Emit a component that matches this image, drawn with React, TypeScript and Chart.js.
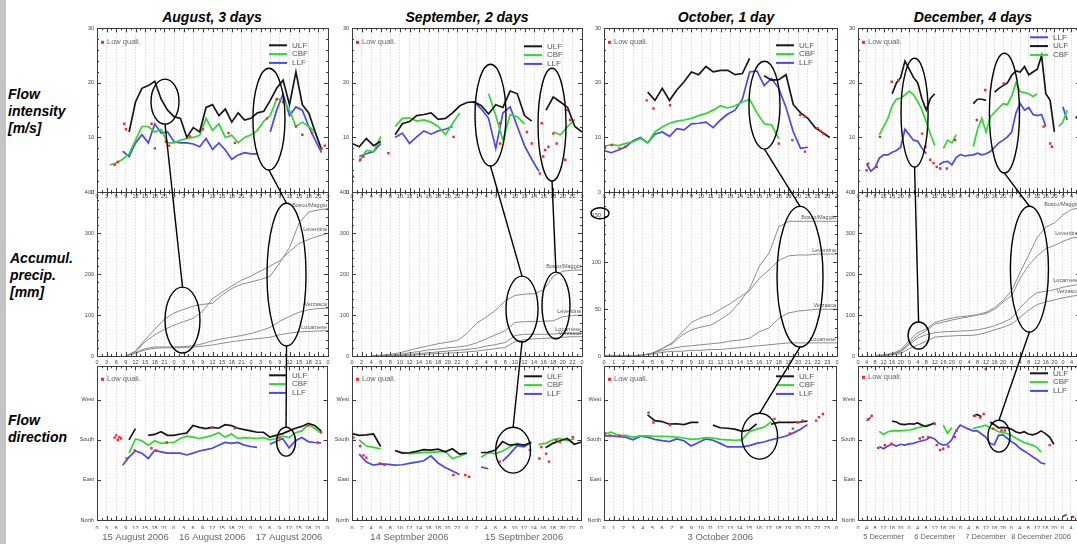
import React, { useEffect, useRef } from "react";
import { Chart, registerables } from "chart.js";
Chart.register(...registerables);

// ---------- time grids (hours since 00:00 of the first day) ----------
const hours = (n: number, step: number) => Array.from({ length: n }, (_, i) => i * step);
const AUG_T = hours(37, 2);
const AUG_PT = hours(25, 3);
const SEP_T = hours(33, 1.5);
const SEP_PT = hours(25, 2);
const OCT_T = hours(33, 0.75);
const OCT_PT = hours(25, 1);
const DEC_T = hours(53, 2);
const DEC_PT = hours(27, 4);

// ---------- August (15-17 Aug 2006) ----------
const AUG_ULF = [null,null,null,null,null,11.0,16.5,19.0,19.5,20.3,17.0,15.0,13.8,13.5,10.0,11.8,11.0,15.5,16.0,14.0,15.2,12.8,14.5,13.2,13.5,14.5,14.8,16.8,19.0,20.5,16.0,22.0,16.0,14.5,11.0,7.8,null];
const AUG_CBF = [null,null,5.0,5.3,6.0,7.0,9.5,12.0,12.0,11.0,11.5,9.0,9.0,9.5,9.8,10.0,10.4,13.5,11.3,12.5,10.0,10.4,9.0,10.0,10.5,11.3,13.0,14.0,17.0,17.0,15.0,12.0,12.8,12.0,11.0,7.5,null];
const AUG_LLF = [null,null,null,null,7.5,6.5,9.0,10.5,9.0,12.5,10.8,11.0,9.2,9.0,9.0,8.8,8.3,9.8,7.8,9.0,7.7,6.0,6.8,7.2,7.0,7.0,null,11.0,15.0,18.0,14.0,15.6,15.0,12.0,9.5,7.2,null];
const AUG_LOW_SPD = [[5.5,5.0],[6.5,5.5],[8.5,12.5],[9,11.5],[17,12.5],[18,8.0],[21.5,9.2],[22.5,8.5],[29,10.2],[33,11.5],[41,10.8],[43,9.0],[53,13.5],[56,17.0],[58,16.5],[62,12.0],[64,10.5],[67,10.8],[70,8.0],[71,8.5]];
const AUG_BOSCO = [null,null,null,0,12,40,65,90,105,114,122,126,129,149,165,175,181,187,195,228,265,325,352,357,360];
const AUG_LEVENTINA = [null,null,null,0,10,35,52,65,75,84,92,110,140,156,171,185,195,208,220,233,255,275,285,293,300];
const AUG_VERZASCA = [null,null,null,0,8,18,22,22,22,23,25,30,37,42,46,50,55,62,70,85,97,107,113,116,117];
const AUG_LOCARNESE = [null,null,null,0,7,15,19,20,20,21,22,24,27,31,35,38,41,43,46,52,56,59,60,61,62];
const AUG_DIR_ULF = [null,null,null,null,null,180,205,null,190,192,198,190,190,193,195,212,208,205,208,206,214,212,206,203,200,197,197,186,190,194,200,206,210,217,212,200,null];
const AUG_DIR_CBF = [null,null,null,null,null,150,182,178,168,178,172,174,174,183,188,186,183,186,190,196,186,193,183,185,184,183,185,180,183,188,185,196,200,215,205,195,null];
const AUG_DIR_LLF = [null,null,null,null,123,141,155,150,138,156,153,150,150,150,146,150,155,158,161,168,174,172,174,168,165,163,null,170,176,183,162,178,185,176,174,173,null];
const AUG_LOW_DIR = [[5.5,185],[6,190],[6.5,180],[7,186],[7.5,183],[9.3,138],[11.8,156],[17,161],[18.5,156],[21.8,174],[36,208],[43,206],[57,185],[66,212],[69,174],[70,197]];

// ---------- September (14-15 Sep 2006) ----------
const SEP_ULF = [8.9,8.3,9.8,8.5,9.3,null,10.5,12.5,12.9,14.0,14.2,14.5,13.3,13.5,14.5,15.8,16.4,16.5,15.8,14.3,16.0,15.5,18.5,18.0,14.0,13.0,null,15.0,17.4,16.5,15.5,12.0,11.0];
const SEP_CBF = [null,5.5,7.6,7.4,10.2,null,12.0,13.5,13.6,13.0,13.2,12.8,12.0,10.5,12.6,14.5,null,null,null,18.0,14.0,9.5,14.2,13.8,12.5,null,null,null,11.0,10.5,12.0,13.3,null];
const SEP_LLF = [null,6.5,7.0,7.4,8.9,null,10.0,10.8,8.9,10.1,11.2,10.6,11.2,11.5,12.0,null,null,16.5,15.2,13.5,8.0,14.5,15.6,12.0,8.5,6.0,3.8,null,null,null,null,null,null];
const SEP_LOW_SPD = [[0.2,2.8],[1.7,5.9],[2.4,6.5],[7.6,7.1],[21.2,10.1],[30.9,12.6],[30.9,8.9],[36.5,11.0],[37.5,8.9],[39.2,3.4],[39.9,6.5],[40.3,7.7],[41,8.3],[42,10.7],[42.7,8.9],[39.6,12.6],[44.8,15.0],[45.5,13.2],[44.5,5.9]];
const SEP_BOSCO = [null,null,0,2,4,8,14,20,25,30,34,38,55,80,95,112,135,148,151,152,162,195,207,210,210];
const SEP_LEVENTINA = [null,null,0,1,2,4,8,11,15,17,20,22,25,32,42,52,62,82,84,84,85,86,96,99,100];
const SEP_LOCARNESE = [null,null,0,0,1,2,4,6,8,10,12,14,16,19,24,28,33,50,53,53,53,54,55,55,55];
const SEP_VERZASCA = [null,null,0,0,1,1,2,3,5,6,7,8,10,12,15,18,21,35,40,42,43,44,46,47,47];
const SEP_DIR_ULF = [194,190,191,193,165,null,156,150,151,154,158,157,159,153,160,148,150,null,151,152,157,176,168,170,168,174,null,162,172,178,183,170,175];
const SEP_DIR_CBF = [null,180,166,163,160,null,156,152,149,150,152,152,153,154,138,143,150,null,141,151,149,155,164,172,168,null,170,172,180,183,178,182,null];
const SEP_DIR_LLF = [null,148,130,123,126,125,123,124,127,130,133,144,128,118,110,102,null,null,119,115,null,132,148,167,164,175,null,null,null,null,null,null,null];
const SEP_LOW_DIR = [[0,197],[0.3,185],[1.7,166],[2.4,145],[3,140],[5.8,127],[6.8,124],[21.2,101],[23.7,101],[24.5,97],[30.9,131],[37.2,157],[39.2,138],[39.6,164],[40.6,149],[41.2,131],[42.7,179],[43.5,175],[46.2,186]];

// ---------- October (3 Oct 2006) ----------
const OCT_ULF = [null,null,null,null,null,null,18.3,16.8,19.0,16.8,18.7,20.2,22.0,21.5,23.0,22.0,22.3,22.3,21.5,21.7,24.5,null,21.3,20.5,20.6,21.5,16.0,14.5,13.5,11.8,10.9,10.0,null];
const OCT_CBF = [8.3,8.7,8.5,8.9,9.2,9.8,9.0,11.0,11.9,12.6,13.0,13.2,13.5,14.0,14.4,15.0,15.8,15.4,15.8,16.5,17.0,14.5,12.5,12.3,9.8,null,null,null,null,null,null,null,null];
const OCT_LLF = [7.6,7.2,7.7,8.3,9.4,10.0,9.0,10.6,11.0,10.2,11.6,11.4,12.5,12.6,12.8,11.8,13.2,14.3,15.0,17.0,22.0,22.2,19.5,20.8,19.0,15.5,11.0,8.0,8.2,null,null,null,null];
const OCT_LOW_SPD = [[0.1,8.3],[0.8,8.6],[1.6,8.0],[2.2,8.3],[4.4,16.8],[5.1,15.3],[6.8,15.9],[18,8.9],[19.4,9.5],[20.2,14.1],[20.7,13.8],[20.7,7.4],[22,11.7],[22.3,11.2],[22.6,10.7]];
const OCT_BOSCO = [0,0,0,0,1,3,8,13,22,28,31,33,39,46,58,72,96,110,138,144,144,144,144,144,144];
const OCT_LEVENTINA = [0,0,0,0,1,3,8,14,25,36,41,44,50,56,63,70,83,92,102,107,108,108,109,109,109];
const OCT_VERZASCA = [0,0,0,0,1,3,6,8,10,11,12,13,14,16,17,19,26,30,40,46,48,49,50,50,50];
const OCT_LOCARNESE = [0,0,0,0,1,2,4,5,5,6,6,7,7,8,9,10,11,12,13,14,14,14,14,14,14];
const OCT_DIR_ULF = [null,null,null,null,null,null,236,223,221,215,216,214,219,219,null,213,207,206,204,199,202,216,null,215,219,219,219,220,222,null,null,null,null];
const OCT_DIR_CBF = [193,197,190,190,186,189,189,188,188,187,186,184,181,182,185,184,181,180,179,180,198,204,208,220,null,null,null,null,null,null,null,null,null];
const OCT_DIR_LLF = [189,189,187,186,180,188,186,181,178,176,182,178,166,174,182,179,172,164,164,164,167,172,175,180,184,188,195,203,214,null,null,null,null];
const OCT_LOW_DIR = [[0.1,194],[0.6,190],[1.6,189],[4.6,241],[5.1,219],[6.8,213],[17.6,227],[19.2,194],[19.5,205],[20,219],[20.5,223],[21.9,223],[22.2,231],[22.6,238]];

// ---------- December (5-8 Dec 2006) ----------
const DEC_ULF = [null,null,null,null,null,null,null,null,18.0,20.0,21.0,24.0,22.5,21.0,20.0,17.0,15.0,17.2,18.0,null,null,null,null,null,null,null,null,16.2,17.0,17.0,16.8,null,18.3,19.0,19.5,20.0,21.4,22.2,22.0,23.0,21.5,22.0,22.5,25.0,18.0,16.8,11.0,null,null,null,null,13.5,14.5];
const DEC_CBF = [null,null,null,null,null,10.5,12.0,13.5,15.8,17.0,17.2,17.8,18.5,17.8,16.6,15.0,12.8,10.5,8.5,null,8.0,9.5,9.0,10.5,null,null,null,8.3,11.5,13.5,11.0,13.8,14.6,15.4,16.2,16.0,17.6,20.0,18.4,18.2,18.0,17.5,18.0,null,null,null,null,12.0,12.8,15.0,null,null,null];
const DEC_LLF = [null,null,5.2,3.8,4.5,6.2,6.8,6.8,7.3,7.6,8.2,11.5,10.5,9.5,9.3,8.0,7.0,null,null,5.0,5.5,5.6,5.0,6.3,6.9,6.6,6.7,6.8,7.1,6.8,7.0,7.4,8.2,9.0,9.5,10.1,11.0,14.5,16.2,15.0,15.5,14.2,14.0,14.2,12.0,null,null,null,15.6,13.2,null,null,null];
const DEC_LOW_SPD = [[4,4.0],[4.8,5.2],[8.8,4.6],[10.3,10.1],[15.8,20.2],[18.9,20.5],[30,10.7],[31.5,8.3],[33.8,5.9],[35.4,5.3],[36.9,4.6],[38.5,4.3],[41.6,4.3],[45.5,9.5],[55.7,13.2],[59.6,18.7],[68.2,19.9],[87,12.0],[90,8.9],[90.8,8.3]];
const DEC_BOSCO = [null,null,0,3,6,15,38,57,66,82,88,93,96,98,101,107,118,136,160,205,247,290,315,325,345,358,362];
const DEC_LEVENTINA = [null,null,0,2,5,12,32,50,62,78,83,88,92,96,100,104,114,132,148,190,222,245,262,270,280,288,291];
const DEC_LOCARNESE = [null,null,0,2,4,10,28,44,52,57,59,60,61,62,64,68,74,82,92,118,140,155,158,162,168,172,175];
const DEC_VERZASCA = [null,null,0,1,3,6,18,27,36,46,48,49,50,50,52,57,64,70,78,95,112,126,132,137,142,146,149];
const DEC_DIR_ULF = [null,null,null,null,null,null,null,null,222,220,215,214,216,215,218,213,210,214,218,null,null,null,null,null,null,null,null,233,237,232,null,220,214,207,208,207,204,198,195,198,193,191,194,200,194,186,170,null,null,null,null,null,null];
const DEC_DIR_CBF = [null,null,null,null,null,199,192,198,200,200,200,201,202,204,207,209,212,215,null,null,213,195,207,null,null,null,null,205,208,210,213,207,203,198,196,194,190,184,179,174,171,168,163,152,null,null,null,null,null,null,null,null,null];
const DEC_DIR_LLF = [null,null,223,230,null,165,160,166,170,166,170,168,171,172,175,178,180,186,182,172,168,170,180,200,213,208,204,200,200,193,186,172,169,190,191,184,176,170,161,155,149,142,136,128,126,null,null,null,8,12,null,null,null];
const DEC_LOW_DIR = [[4.9,226],[6.4,234],[9.5,162],[12.6,168],[15.7,171],[29,183],[30.5,186],[33,186],[36,216],[37,168],[38.5,157],[40,160],[42.4,165],[45.5,186],[46.3,201],[55,234],[57.3,230],[59,238],[60,339],[63.5,205],[67.4,201],[69,201],[90,168],[101,7]];

// ---------- highlight ellipses [centre h, centre value, radius h, radius value] ----------
const AUG_ELL_SPD = [[21.2,16.56,4.36,4.12],[53.6,13.35,4.99,9.33]];
const AUG_ELL_PREC = [[26.65,87.8,5.45,80.5],[59.07,198.8,6.08,174.4]];
const AUG_ELL_DIR = [[59.07,175.8,2.96,32.5]];
const SEP_ELL_SPD = [[28.9,14.09,3.23,9.33],[41.74,12.35,2.92,10.34]];
const SEP_ELL_PREC = [[35.48,114.6,3.34,80.5],[42.57,123.2,2.92,81.7]];
const SEP_ELL_DIR = [[33.7,156.8,3.65,51.5]];
const OCT_ELL_SPD = [[16.53,15.91,1.6,8.05]];
const OCT_ELL_PREC = [[20.19,84.8,2.37,75.2],[-0.41,152.6,0.93,5.87]];
const OCT_ELL_DIR = [[16.07,188.2,1.85,51.5]];
const DEC_ELL_SPD = [[26.5,14.54,6.34,9.97],[68.6,14.45,7.05,10.98]];
const DEC_ELL_PREC = [[28.4,50,4.93,32.9],[80.3,212.2,8.92,153.7]];
const DEC_ELL_DIR = [[66.2,188.2,5.17,35.8]];
// links: [column, upper row, ellipse, lower row, ellipse]
const LINKS = [[0,0,0,1,0],[0,0,1,1,1],[0,1,1,2,0],[1,0,0,1,0],[1,0,1,1,1],[1,1,0,2,0],[2,0,0,1,0],[2,1,0,2,0],[3,0,0,1,0],[3,0,1,1,1],[3,1,1,2,0]];

const TITLES = ["August, 3 days", "September, 2 days", "October, 1 day", "December, 4 days"];
const DIR_NAMES: Record<number, string> = { 0: "North", 90: "East", 180: "South", 270: "West" };

const C_ULF = "#161616", C_CBF = "#2ed82e", C_LLF = "#4848ee", C_LOW = "#ff2424", C_PREC = "#8c8c8c";
const FONT = '"Liberation Sans", Arial, sans-serif';

type Series = { name: string; color: string; width: number; t: number[]; v: (number | null)[] };
type Panel = {
  col: number; row: number; L: number; T: number; R: number; B: number;
  xMax: number; xStep: number; yMax: number; yStep: number; yMinor: number;
  series: Series[]; low?: number[][]; legend?: string[]; legendDy?: number; lowDy?: number;
  lineLabels?: boolean; dates?: [number, string][]; dateFont?: number; ellipses: number[][]; xPad: number;
};

const COLS = [
  { L: 97, R: 328, xMax: 72, xStep: 3 },
  { L: 352, R: 582, xMax: 48, xStep: 2 },
  { L: 604, R: 837, xMax: 24, xStep: 1 },
  { L: 858, R: 1080, xMax: 104, xStep: 4 },
];
const ROWS = [{ T: 28, B: 192 }, { T: 192, B: 356 }, { T: 366, B: 520 }];

const sp = (t: number[], u: any[], c: any[], l: any[]): Series[] => [
  { name: "ULF", color: C_ULF, width: 1.7, t, v: u },
  { name: "CBF", color: C_CBF, width: 1.7, t, v: c },
  { name: "LLF", color: C_LLF, width: 1.7, t, v: l },
];
const pr = (t: number[], b: any[], le: any[], ve: any[], lo: any[]): Series[] => [
  { name: "Bosco/Maggio", color: C_PREC, width: 1, t, v: b },
  { name: "Leventina", color: C_PREC, width: 1, t, v: le },
  { name: "Verzasca", color: C_PREC, width: 1, t, v: ve },
  { name: "Locarnese", color: C_PREC, width: 1, t, v: lo },
];

const COLDATA = [
  { spd: sp(AUG_T, AUG_ULF, AUG_CBF, AUG_LLF), lowS: AUG_LOW_SPD, prec: pr(AUG_PT, AUG_BOSCO, AUG_LEVENTINA, AUG_VERZASCA, AUG_LOCARNESE), precMax: 400, precStep: 100,
    dir: sp(AUG_T, AUG_DIR_ULF, AUG_DIR_CBF, AUG_DIR_LLF), lowD: AUG_LOW_DIR, ell: [AUG_ELL_SPD, AUG_ELL_PREC, AUG_ELL_DIR],
    dates: [[12, "15 August 2006"], [36, "16 August 2006"], [60, "17 August 2006"]], dateFont: 9.5, legend1: ["ULF", "CBF", "LLF"], leg1: 17, leg3: 9 },
  { spd: sp(SEP_T, SEP_ULF, SEP_CBF, SEP_LLF), lowS: SEP_LOW_SPD, prec: pr(SEP_PT, SEP_BOSCO, SEP_LEVENTINA, SEP_VERZASCA, SEP_LOCARNESE), precMax: 400, precStep: 100,
    dir: sp(SEP_T, SEP_DIR_ULF, SEP_DIR_CBF, SEP_DIR_LLF), lowD: SEP_LOW_DIR, ell: [SEP_ELL_SPD, SEP_ELL_PREC, SEP_ELL_DIR],
    dates: [[12, "14 Septmber 2006"], [36, "15 Septmber 2006"]], dateFont: 9.5, legend1: ["ULF", "CBF", "LLF"], leg1: 18, leg3: 10 },
  { spd: sp(OCT_T, OCT_ULF, OCT_CBF, OCT_LLF), lowS: OCT_LOW_SPD, prec: pr(OCT_PT, OCT_BOSCO, OCT_LEVENTINA, OCT_VERZASCA, OCT_LOCARNESE), precMax: 175, precStep: 50,
    dir: sp(OCT_T, OCT_DIR_ULF, OCT_DIR_CBF, OCT_DIR_LLF), lowD: OCT_LOW_DIR, ell: [OCT_ELL_SPD, OCT_ELL_PREC, OCT_ELL_DIR],
    dates: [[12, "3 October 2006"]], dateFont: 9.5, legend1: ["ULF", "CBF", "LLF"], leg1: 17, leg3: 10 },
  { spd: sp(DEC_T, DEC_ULF, DEC_CBF, DEC_LLF), lowS: DEC_LOW_SPD, prec: pr(DEC_PT, DEC_BOSCO, DEC_LEVENTINA, DEC_VERZASCA, DEC_LOCARNESE), precMax: 400, precStep: 100,
    dir: sp(DEC_T, DEC_DIR_ULF, DEC_DIR_CBF, DEC_DIR_LLF), lowD: DEC_LOW_DIR, ell: [DEC_ELL_SPD, DEC_ELL_PREC, DEC_ELL_DIR],
    dates: [[12, "5 December"], [36, "6 December"], [60, "7 December"], [86, "8 December 2006"]], dateFont: 7.5, legend1: ["LLF", "ULF", "CBF"], leg1: 9, leg3: 7 },
];

const PANELS: Panel[] = [];
COLDATA.forEach((d, c) => {
  const base = COLS[c];
  PANELS.push({ col: c, row: 0, ...base, ...ROWS[0], yMax: 30, yStep: 10, yMinor: 2, series: d.spd, low: d.lowS,
    legend: d.legend1, legendDy: d.leg1, lowDy: 14, ellipses: d.ell[0], xPad: 1 });
  PANELS.push({ col: c, row: 1, ...base, ...ROWS[1], yMax: d.precMax, yStep: d.precStep, yMinor: d.precStep / 5, series: d.prec,
    lineLabels: true, ellipses: d.ell[1], xPad: 3 });
  PANELS.push({ col: c, row: 2, ...base, ...ROWS[2], yMax: 345, yStep: 90, yMinor: 90, series: d.dir, low: d.lowD,
    legend: ["ULF", "CBF", "LLF"], legendDy: d.leg3, lowDy: c === 3 ? 11 : 13, dates: d.dates as [number, string][], dateFont: d.dateFont,
    ellipses: d.ell[2], xPad: 5 });
});

const X_H = 9;
const geo = (p: Panel) => {
  const padB = p.row === 2 ? 18 : 0;
  return { left: p.L - 20, top: p.T - 6, width: Math.round(p.R - p.L + 26), height: p.B - p.T + 6 + X_H + padB, padB };
};

function decoPlugin(p: Panel) {
  return {
    id: "deco",
    afterDatasetsDraw(chart: any) {
      const { ctx, chartArea: a, scales } = chart;
      const xs = scales.x, ys = scales.y;
      ctx.save();
      // ticks pointing inwards on all four sides
      ctx.strokeStyle = "#3c3c3c";
      ctx.lineWidth = 1;
      ctx.beginPath();
      const xMinor = p.xStep / 2;
      for (let i = 0; i * xMinor <= p.xMax + 1e-6; i++) {
        const x = Math.round(xs.getPixelForValue(i * xMinor)) + 0.5;
        const len = i % 2 === 0 ? 4 : 2;
        ctx.moveTo(x, a.bottom); ctx.lineTo(x, a.bottom - len);
        ctx.moveTo(x, a.top); ctx.lineTo(x, a.top + len);
      }
      const nMinor = Math.round(p.yStep / p.yMinor);
      for (let i = 0; i * p.yMinor <= p.yMax + 1e-6; i++) {
        const y = Math.round(ys.getPixelForValue(i * p.yMinor)) + 0.5;
        const len = i % nMinor === 0 ? 4 : 2;
        ctx.moveTo(a.left, y); ctx.lineTo(a.left + len, y);
        ctx.moveTo(a.right, y); ctx.lineTo(a.right - len, y);
      }
      ctx.stroke();
      // frame
      ctx.strokeRect(Math.round(a.left) + 0.5, Math.round(a.top) + 0.5, Math.round(a.right - a.left), Math.round(a.bottom - a.top));
      // legend
      if (p.legend) {
        const x0 = a.left + 172;
        p.legend.forEach((name, i) => {
          const s = p.series.find((q) => q.name === name)!;
          const y = a.top + (p.legendDy || 0) + i * 8.8;
          ctx.strokeStyle = s.color; ctx.lineWidth = 2;
          ctx.beginPath(); ctx.moveTo(x0, y); ctx.lineTo(x0 + 18, y); ctx.stroke();
          ctx.fillStyle = "#555"; ctx.font = `8px ${FONT}`; ctx.textBaseline = "middle"; ctx.textAlign = "left";
          ctx.fillText(name, x0 + 23, y);
        });
      }
      if (p.low) {
        const y = a.top + (p.lowDy || 0);
        ctx.fillStyle = C_LOW; ctx.fillRect(a.left + 4, y - 1.5, 3, 3);
        ctx.fillStyle = "#666"; ctx.font = `7.5px ${FONT}`; ctx.textBaseline = "middle"; ctx.textAlign = "left";
        ctx.fillText("Low quali.", a.left + 10, y);
      }
      if (p.lineLabels) {
        ctx.fillStyle = "#555"; ctx.font = `5.5px ${FONT}`; ctx.textAlign = "right"; ctx.textBaseline = "alphabetic";
        p.series.forEach((s) => {
          let last: number | null = null;
          s.v.forEach((v) => { if (v !== null) last = v; });
          if (last === null) return;
          ctx.fillText(s.name, a.right - 1, ys.getPixelForValue(last) - 2);
        });
      }
      if (p.dates) {
        ctx.fillStyle = "#666"; ctx.font = `${p.dateFont}px ${FONT}`; ctx.textAlign = "center"; ctx.textBaseline = "middle";
        p.dates.forEach(([h, text]) => ctx.fillText(text, xs.getPixelForValue(h), a.bottom + 17));
      }
      ctx.restore();
    },
  };
}

function buildConfig(p: Panel): any {
  const g = geo(p);
  const datasets: any[] = p.series.map((s, i) => ({
    type: "line",
    label: s.name,
    data: s.t.map((x, j) => ({ x, y: s.v[j] })),
    borderColor: s.color,
    borderWidth: s.width,
    pointRadius: 0,
    spanGaps: false,
    tension: 0,
    order: i + 1,
  }));
  if (p.low) {
    datasets.push({
      type: "scatter",
      label: "Low quali.",
      data: p.low.map(([x, y]) => ({ x, y })),
      pointStyle: "rect",
      pointRadius: 1.7,
      backgroundColor: C_LOW,
      borderWidth: 0,
      order: 0,
    });
  }
  const tickFont = { size: 5.5, family: FONT };
  return {
    type: "line",
    data: { datasets },
    options: {
      animation: false,
      responsive: false,
      events: [],
      layout: { padding: { left: 0, top: 6, right: 6, bottom: g.padB } },
      plugins: { legend: { display: false }, tooltip: { enabled: false } },
      scales: {
        x: {
          type: "linear", bounds: "data", min: 0, max: p.xMax,
          afterFit: (s: any) => { s.height = X_H; },
          ticks: { stepSize: p.xStep, autoSkip: false, maxRotation: 0, minRotation: 0, includeBounds: false, padding: p.xPad,
            font: tickFont, color: "#444", callback: (v: any) => String(Math.round(Number(v)) % 24) },
          grid: { display: true, drawTicks: false, color: "#bdbdbd", lineWidth: 0.8 },
          border: { display: false, dash: [1, 2] },
        },
        y: {
          type: "linear", bounds: "data", min: 0, max: p.yMax,
          afterFit: (s: any) => { s.width = 20; },
          ticks: { stepSize: p.yStep, includeBounds: false, padding: 3, font: tickFont, color: "#444",
            callback: (v: any) => {
              const n = Math.round(Number(v));
              if (n % p.yStep !== 0) return "";
              return p.row === 2 ? DIR_NAMES[n] ?? "" : String(n);
            } },
          grid: { display: false, drawTicks: false },
          border: { display: false },
        },
      },
    },
    plugins: [decoPlugin(p)],
  };
}

const labelStyle: React.CSSProperties = {
  position: "absolute", fontFamily: FONT, fontWeight: "bold", fontStyle: "italic", fontSize: 14, lineHeight: "17px", color: "#000", whiteSpace: "pre",
};
const TITLE_X = [212, 467, 726, 973];

export default function App() {
  const canvasRefs = useRef<(HTMLCanvasElement | null)[]>([]);
  const overlayRef = useRef<HTMLCanvasElement | null>(null);

  useEffect(() => {
    const charts = PANELS.map((p, i) => new Chart(canvasRefs.current[i] as HTMLCanvasElement, buildConfig(p)));
    const ov = overlayRef.current!.getContext("2d")!;
    ov.clearRect(0, 0, 1077, 544);
    const P = (pi: number, h: number, v: number) => {
      const g = geo(PANELS[pi]);
      const c: any = charts[pi];
      return [g.left + c.scales.x.getPixelForValue(h), g.top + c.scales.y.getPixelForValue(v)];
    };
    ov.strokeStyle = "#000";
    ov.lineWidth = 1.4;
    PANELS.forEach((p, pi) => {
      p.ellipses.forEach(([cx, cy, rx, ry]) => {
        const [x, y] = P(pi, cx, cy);
        const rxp = Math.abs(P(pi, cx + rx, cy)[0] - x);
        const ryp = Math.abs(P(pi, cx, cy + ry)[1] - y);
        ov.beginPath();
        ov.ellipse(x, y, rxp, ryp, 0, 0, Math.PI * 2);
        ov.stroke();
      });
    });
    LINKS.forEach(([c, ra, ea, rb, eb]) => {
      const pa = c * 3 + ra, pb = c * 3 + rb;
      const A = PANELS[pa].ellipses[ea], B = PANELS[pb].ellipses[eb];
      const [x1, y1] = P(pa, A[0], A[1] - A[3]);
      const [x2, y2] = P(pb, B[0], B[1] + B[3]);
      ov.beginPath(); ov.moveTo(x1, y1); ov.lineTo(x2, y2); ov.stroke();
    });
    return () => charts.forEach((c) => c.destroy());
  }, []);

  return (
    <div style={{ position: "fixed", left: 0, top: 0, width: 1077, height: 544, overflow: "hidden", background: "#fff" }}>
      <div style={{ position: "absolute", left: 0, top: 0, width: 6, height: 544, background: "#c4c4c4" }} />
      {TITLES.map((t, i) => (
        <div key={t} style={{ ...labelStyle, left: TITLE_X[i] - 110, width: 220, top: 9, textAlign: "center" }}>{t}</div>
      ))}
      <div style={{ ...labelStyle, left: 8, top: 86 }}>{"Flow\nintensity\n[m/s]"}</div>
      <div style={{ ...labelStyle, left: 10, top: 250 }}>{"Accumul.\nprecip.\n[mm]"}</div>
      <div style={{ ...labelStyle, left: 8, top: 412 }}>{"Flow\ndirection"}</div>
      {PANELS.map((p, i) => {
        const g = geo(p);
        return (
          <canvas
            key={i}
            ref={(el) => { canvasRefs.current[i] = el; }}
            width={g.width}
            height={g.height}
            style={{ position: "absolute", left: g.left, top: g.top, width: g.width, height: g.height }}
          />
        );
      })}
      <canvas ref={overlayRef} width={1077} height={544} style={{ position: "absolute", left: 0, top: 0, width: 1077, height: 544, pointerEvents: "none" }} />
    </div>
  );
}
